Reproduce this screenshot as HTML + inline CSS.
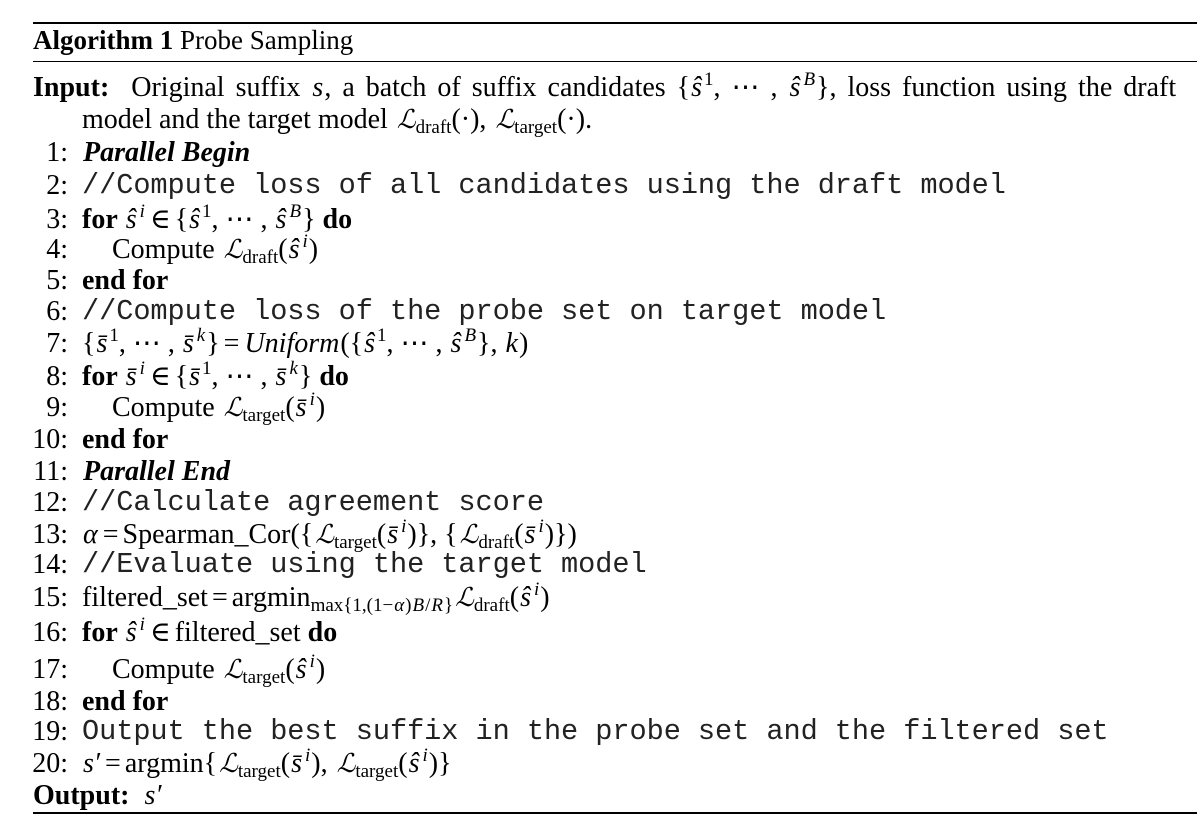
<!DOCTYPE html>
<html><head><meta charset="utf-8">
<style>
html,body{margin:0;padding:0;background:#fff;}
body{width:1197px;height:830px;position:relative;overflow:hidden;font-family:"Liberation Serif","DejaVu Serif",serif;font-size:28px;color:#000;}
.rule{position:absolute;left:33px;right:0;background:#000;}
.ln{position:absolute;left:0;height:32px;line-height:32px;white-space:nowrap;}
.num{position:absolute;left:0;width:68px;text-align:right;}
.c{position:absolute;left:82px;}
.c2{position:absolute;left:112px;}
.mono{font-family:"Liberation Mono",monospace;font-size:28.6px;letter-spacing:-0.05px;color:#222;}
i{font-style:italic;padding:0 1px;}
.sb{font-size:19px;vertical-align:-5px;line-height:0;}
.sp{font-size:19px;vertical-align:11px;line-height:0;padding-left:1px;}
.L{font-family:"DejaVu Serif",serif;font-style:italic;font-size:26px;padding-left:2px;}
.m{padding:0 4px;}
b{font-weight:bold;}
</style></head>
<body>
<div class="rule" style="top:22px;height:2px"></div>
<div class="ln" style="top:24px;left:33px;font-size:27px"><b>Algorithm 1</b> Probe Sampling</div>
<div class="rule" style="top:61px;height:1px"></div>

<div class="ln" style="top:72px;left:33px;word-spacing:4px"><b>Input:</b>&nbsp; Original suffix <i>s</i>, a batch of suffix candidates {<i>ŝ</i><span class="sp">1</span>, ⋯ , <i>ŝ</i><span class="sp"><i>B</i></span>}, loss function using the draft</div>
<div class="ln" style="top:104px;left:82px">model and the target model <span class="L">ℒ</span><span class="sb">draft</span>(·), <span class="L">ℒ</span><span class="sb">target</span>(·).</div>

<div class="ln" style="top:137px;width:1197px"><span class="num">1:</span><span class="c"><b><i>Parallel Begin</i></b></span></div>
<div class="ln" style="top:170px;width:1197px"><span class="num">2:</span><span class="c mono">//Compute loss of all candidates using the draft model</span></div>
<div class="ln" style="top:204px;width:1197px"><span class="num">3:</span><span class="c"><b>for</b> <i>ŝ</i><span class="sp"><i>i</i></span><span class="m">∈</span>{<i>ŝ</i><span class="sp">1</span>, ⋯ , <i>ŝ</i><span class="sp"><i>B</i></span>} <b>do</b></span></div>
<div class="ln" style="top:234px;width:1197px"><span class="num">4:</span><span class="c2">Compute <span class="L">ℒ</span><span class="sb">draft</span>(<i>ŝ</i><span class="sp"><i>i</i></span>)</span></div>
<div class="ln" style="top:265px;width:1197px"><span class="num">5:</span><span class="c"><b>end for</b></span></div>
<div class="ln" style="top:296px;width:1197px"><span class="num">6:</span><span class="c mono">//Compute loss of the probe set on target model</span></div>
<div class="ln" style="top:328px;width:1197px"><span class="num">7:</span><span class="c">{<i>s̄</i><span class="sp">1</span>, ⋯ , <i>s̄</i><span class="sp"><i>k</i></span>}<span class="m">=</span><i>Uniform</i>({<i>ŝ</i><span class="sp">1</span>, ⋯ , <i>ŝ</i><span class="sp"><i>B</i></span>}, <i>k</i>)</span></div>
<div class="ln" style="top:361px;width:1197px"><span class="num">8:</span><span class="c"><b>for</b> <i>s̄</i><span class="sp"><i>i</i></span><span class="m">∈</span>{<i>s̄</i><span class="sp">1</span>, ⋯ , <i>s̄</i><span class="sp"><i>k</i></span>} <b>do</b></span></div>
<div class="ln" style="top:392px;width:1197px"><span class="num">9:</span><span class="c2">Compute <span class="L">ℒ</span><span class="sb">target</span>(<i>s̄</i><span class="sp"><i>i</i></span>)</span></div>
<div class="ln" style="top:424px;width:1197px"><span class="num">10:</span><span class="c"><b>end for</b></span></div>
<div class="ln" style="top:456px;width:1197px"><span class="num">11:</span><span class="c"><b><i>Parallel End</i></b></span></div>
<div class="ln" style="top:487px;width:1197px"><span class="num">12:</span><span class="c mono">//Calculate agreement score</span></div>
<div class="ln" style="top:519px;width:1197px"><span class="num">13:</span><span class="c"><i>α</i><span class="m">=</span>Spearman_Cor({<span class="L">ℒ</span><span class="sb">target</span>(<i>s̄</i><span class="sp"><i>i</i></span>)}, {<span class="L">ℒ</span><span class="sb">draft</span>(<i>s̄</i><span class="sp"><i>i</i></span>)})</span></div>
<div class="ln" style="top:549px;width:1197px"><span class="num">14:</span><span class="c mono">//Evaluate using the target model</span></div>
<div class="ln" style="top:582px;width:1197px"><span class="num">15:</span><span class="c">filtered_set<span class="m">=</span>argmin<span class="sb">max{1,(1−<i>α</i>)<i>B</i>/<i>R</i>}</span><span class="L">ℒ</span><span class="sb">draft</span>(<i>ŝ</i><span class="sp"><i>i</i></span>)</span></div>
<div class="ln" style="top:617px;width:1197px"><span class="num">16:</span><span class="c"><b>for</b> <i>ŝ</i><span class="sp"><i>i</i></span><span class="m">∈</span>filtered_set <b>do</b></span></div>
<div class="ln" style="top:654px;width:1197px"><span class="num">17:</span><span class="c2">Compute <span class="L">ℒ</span><span class="sb">target</span>(<i>ŝ</i><span class="sp"><i>i</i></span>)</span></div>
<div class="ln" style="top:686px;width:1197px"><span class="num">18:</span><span class="c"><b>end for</b></span></div>
<div class="ln" style="top:716px;width:1197px"><span class="num">19:</span><span class="c mono">Output the best suffix in the probe set and the filtered set</span></div>
<div class="ln" style="top:748px;width:1197px"><span class="num">20:</span><span class="c"><i>s′</i><span class="m">=</span>argmin{<span class="L">ℒ</span><span class="sb">target</span>(<i>s̄</i><span class="sp"><i>i</i></span>), <span class="L">ℒ</span><span class="sb">target</span>(<i>ŝ</i><span class="sp"><i>i</i></span>)}</span></div>
<div class="ln" style="top:780px;left:33px"><b>Output:</b>&nbsp; <i>s′</i></div>
<div class="rule" style="top:812px;height:2px"></div>
</body></html>
